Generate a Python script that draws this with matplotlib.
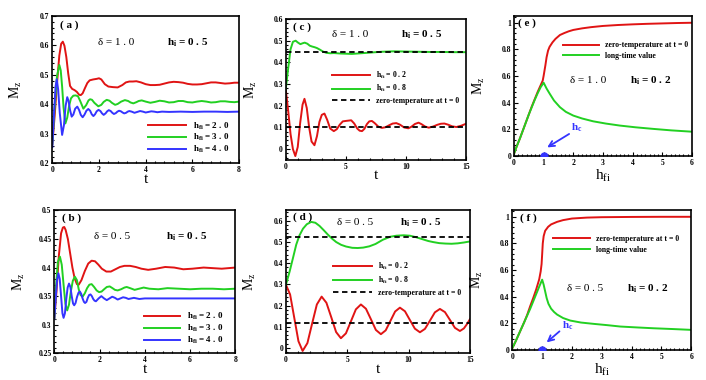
import matplotlib
matplotlib.use('Agg')
import matplotlib.pyplot as plt
from matplotlib.ticker import MultipleLocator, AutoMinorLocator, FuncFormatter

plt.rcParams['font.family'] = ['Liberation Serif', 'DejaVu Serif']
plt.rcParams['font.weight'] = 'bold'
plt.rcParams['mathtext.default'] = 'regular'
plt.rcParams['axes.linewidth'] = 1.2

RED = '#e01414'
GREEN = '#22d022'
BLUE = '#3434ff'

# ---- (a) delta = 1.0, h_i = 0.5 ----
ta_red = [0, 0.1, 0.2, 0.3, 0.38, 0.45, 0.52, 0.6, 0.68, 0.76, 0.85, 0.95, 1.05, 1.15, 1.22, 1.3, 1.4,
          1.5, 1.6, 1.75, 1.9, 2.0, 2.1, 2.25, 2.4, 2.6, 2.8, 3.0, 3.15, 3.3, 3.45, 3.6, 3.8, 4.0, 4.2,
          4.4, 4.6, 4.8, 5.0, 5.2, 5.4, 5.6, 5.8, 6.0, 6.2, 6.4, 6.6, 6.8, 7.0, 7.2, 7.4, 7.6, 7.8, 8.0]
Ma_red = [0.265, 0.36, 0.47, 0.565, 0.605, 0.612, 0.598, 0.56, 0.505, 0.462, 0.452, 0.448, 0.442,
          0.432, 0.431, 0.437, 0.455, 0.472, 0.481, 0.484, 0.486, 0.488, 0.484, 0.468, 0.46, 0.458,
          0.457, 0.465, 0.474, 0.477, 0.477, 0.478, 0.474, 0.468, 0.465, 0.465, 0.466, 0.47, 0.474,
          0.476, 0.475, 0.473, 0.469, 0.467, 0.467, 0.468, 0.471, 0.474, 0.474, 0.472, 0.47, 0.471,
          0.473, 0.473]
ta_green = [0, 0.1, 0.2, 0.3, 0.36, 0.42, 0.48, 0.56, 0.64, 0.72, 0.8, 0.9, 1.0, 1.1, 1.2, 1.33, 1.45,
            1.55, 1.62, 1.7, 1.8, 1.97, 2.1, 2.2, 2.33, 2.45, 2.55, 2.69, 2.8, 2.95, 3.11, 3.25, 3.35,
            3.47, 3.6, 3.7, 3.83, 4.0, 4.2, 4.4, 4.6, 4.8, 5.0, 5.2, 5.4, 5.6, 5.8, 6.0, 6.2, 6.4, 6.6,
            6.8, 7.0, 7.2, 7.4, 7.6, 7.8, 8.0]
Ma_green = [0.265, 0.39, 0.495, 0.533, 0.515, 0.46, 0.39, 0.335, 0.355, 0.395, 0.42, 0.429, 0.43,
            0.427, 0.41, 0.385, 0.397, 0.413, 0.417, 0.415, 0.405, 0.393, 0.398, 0.408, 0.415, 0.412,
            0.405, 0.398, 0.401, 0.409, 0.414, 0.411, 0.406, 0.403, 0.407, 0.411, 0.413, 0.409, 0.405,
            0.408, 0.412, 0.41, 0.406, 0.407, 0.411, 0.411, 0.407, 0.406, 0.409, 0.411, 0.409, 0.406,
            0.407, 0.41, 0.41, 0.408, 0.407, 0.409]
ta_blue = [0, 0.08, 0.14, 0.19, 0.25, 0.32, 0.42, 0.5, 0.57, 0.64, 0.7, 0.76, 0.83, 0.9, 0.98, 1.07,
           1.15, 1.22, 1.30, 1.38, 1.46, 1.54, 1.62, 1.69, 1.76, 1.83, 1.9, 1.98, 2.06, 2.13, 2.2,
           2.28, 2.35, 2.42, 2.5, 2.57, 2.64, 2.72, 2.79, 2.86, 2.94, 3.01, 3.08, 3.16, 3.23, 3.3,
           3.4, 3.52, 3.64, 3.76, 3.88, 4.0, 4.12, 4.24, 4.36, 4.5, 4.7, 5.0, 5.5, 6.0, 6.5, 7.0,
           7.5, 8.0]
Ma_blue = [0.255, 0.38, 0.46, 0.485, 0.45, 0.37, 0.296, 0.33, 0.395, 0.424, 0.41, 0.38, 0.358, 0.365,
           0.385, 0.392, 0.38, 0.364, 0.356, 0.365, 0.378, 0.384, 0.378, 0.366, 0.36, 0.366, 0.376,
           0.381, 0.377, 0.369, 0.364, 0.369, 0.376, 0.38, 0.377, 0.371, 0.367, 0.37, 0.375, 0.378,
           0.376, 0.372, 0.369, 0.371, 0.375, 0.377, 0.375, 0.371, 0.374, 0.377, 0.375, 0.372, 0.374,
           0.376, 0.375, 0.373, 0.375, 0.374, 0.375, 0.374, 0.375, 0.375, 0.374, 0.375]

# ---- (b) delta = 0.5, h_i = 0.5 ----
tb_red = [0, 0.1, 0.2, 0.3, 0.38, 0.44, 0.5, 0.6, 0.7, 0.8, 0.9, 1.0, 1.08, 1.2, 1.35, 1.5, 1.65, 1.8,
          1.95, 2.1, 2.3, 2.5, 2.7, 2.9, 3.1, 3.35, 3.6, 3.85, 4.15, 4.5, 4.9, 5.3, 5.7, 6.1, 6.6, 7.0,
          7.4, 8.0]
Mb_red = [0.31, 0.36, 0.42, 0.46, 0.47, 0.471, 0.466, 0.45, 0.425, 0.4, 0.381, 0.371, 0.37, 0.378,
          0.394, 0.407, 0.412, 0.411, 0.405, 0.398, 0.393, 0.393, 0.397, 0.401, 0.403, 0.403, 0.401,
          0.398, 0.396, 0.398, 0.401, 0.4, 0.397, 0.398, 0.4, 0.399, 0.398, 0.4]
tb_green = [0, 0.08, 0.16, 0.25, 0.33, 0.41, 0.49, 0.57, 0.65, 0.73, 0.82, 0.91, 1.0, 1.08, 1.16, 1.25,
            1.35, 1.45, 1.55, 1.65, 1.76, 1.87, 1.98, 2.09, 2.2, 2.32, 2.45, 2.57, 2.68, 2.8, 2.95,
            3.1, 3.2, 3.35, 3.55, 3.75, 3.95, 4.2, 4.6, 5.0, 5.5, 6.0, 6.5, 7.0, 7.5, 8.0]
Mb_green = [0.31, 0.37, 0.41, 0.419, 0.405, 0.37, 0.337, 0.325, 0.335, 0.358, 0.377, 0.384, 0.378,
            0.362, 0.352, 0.349, 0.355, 0.364, 0.37, 0.371, 0.366, 0.36, 0.357, 0.358, 0.362, 0.366,
            0.367, 0.364, 0.361, 0.36, 0.362, 0.365, 0.366, 0.364, 0.361, 0.363, 0.365, 0.363, 0.362,
            0.364, 0.363, 0.362, 0.363, 0.363, 0.362, 0.363]
tb_blue = [0, 0.06, 0.12, 0.18, 0.24, 0.3, 0.36, 0.41, 0.47, 0.53, 0.59, 0.65, 0.71, 0.77, 0.83, 0.88,
           0.94, 1.0, 1.07, 1.13, 1.19, 1.25, 1.31, 1.36, 1.42, 1.48, 1.54, 1.6, 1.66, 1.72, 1.78,
           1.84, 1.96, 2.08, 2.2, 2.32, 2.44, 2.56, 2.68, 2.8, 2.92, 3.04, 3.16, 3.28, 3.4, 3.52,
           3.64, 3.76, 4.0, 4.5, 5.0, 6.0, 7.0, 8.0]
Mb_blue = [0.31, 0.345, 0.378, 0.39, 0.38, 0.35, 0.32, 0.312, 0.32, 0.345, 0.365, 0.372, 0.366, 0.35,
           0.337, 0.334, 0.338, 0.348, 0.356, 0.358, 0.354, 0.346, 0.34, 0.338, 0.34, 0.347, 0.352,
           0.353, 0.35, 0.345, 0.342, 0.341, 0.346, 0.35, 0.346, 0.343, 0.346, 0.349, 0.347, 0.344,
           0.346, 0.348, 0.347, 0.345, 0.346, 0.347, 0.346, 0.345, 0.346, 0.346, 0.346, 0.346, 0.346,
           0.346]

# ---- (c) delta = 1.0, h_i = 0.5 ----
tc_red = [0, 0.2, 0.4, 0.6, 0.8, 1.0, 1.2, 1.4, 1.56, 1.75, 1.95, 2.15, 2.39, 2.6, 2.8, 3.0, 3.22,
          3.45, 3.7, 4.0, 4.25, 4.5, 4.75, 5.0, 5.45, 5.7, 5.95, 6.15, 6.35, 6.55, 6.75, 6.95, 7.17,
          7.4, 7.7, 8.0, 8.3, 8.6, 8.9, 9.2, 9.5, 9.85, 10.2, 10.45, 10.75, 11.05, 11.3, 11.6, 11.9,
          12.25, 12.6, 12.9, 13.2, 13.5, 13.85, 14.2, 14.6, 15.0]
Mc_red = [0.275, 0.18, 0.07, 0.0, -0.032, 0.01, 0.12, 0.205, 0.232, 0.19, 0.1, 0.035, 0.018, 0.06,
          0.125, 0.158, 0.164, 0.135, 0.095, 0.083, 0.092, 0.113, 0.128, 0.13, 0.133, 0.118, 0.095,
          0.085, 0.083, 0.094, 0.115, 0.128, 0.13, 0.12, 0.104, 0.098, 0.101, 0.11, 0.118, 0.12,
          0.113, 0.1, 0.096, 0.103, 0.116, 0.122, 0.115, 0.104, 0.099, 0.104, 0.112, 0.117, 0.118,
          0.113, 0.105, 0.102, 0.108, 0.117]
tc_green = [0, 0.2, 0.4, 0.6, 0.83, 1.0, 1.22, 1.4, 1.58, 1.8, 2.0, 2.2, 2.4, 2.6, 2.83, 3.1, 3.38,
            3.7, 4.0, 4.5, 5.0, 5.5, 6.0, 6.5, 7.0, 8.0, 9.0, 10.0, 11.0, 12.0, 13.0, 14.0, 15.0]
Mc_green = [0.275, 0.37, 0.46, 0.495, 0.5, 0.492, 0.484, 0.488, 0.491, 0.486, 0.477, 0.473, 0.47,
            0.466, 0.459, 0.45, 0.444, 0.442, 0.443, 0.441, 0.44, 0.439, 0.441, 0.443, 0.445, 0.449,
            0.451, 0.45, 0.449, 0.448, 0.448, 0.447, 0.447]
zero_c = [0.103, 0.447]

# ---- (d) delta = 0.5, h_i = 0.5 ----
td_red = [0, 0.34, 0.68, 1.02, 1.36, 1.75, 2.13, 2.52, 2.91, 3.3, 3.7, 4.09, 4.48, 4.89, 5.3, 5.7,
          6.11, 6.52, 6.93, 7.33, 7.74, 8.13, 8.52, 8.9, 9.29, 9.7, 10.1, 10.51, 10.92, 11.33, 11.74,
          12.14, 12.55, 12.96, 13.37, 13.77, 14.18, 14.5, 14.75, 15.0]
Md_red = [0.298, 0.252, 0.142, 0.032, -0.014, 0.023, 0.114, 0.205, 0.242, 0.213, 0.144, 0.075, 0.046,
          0.069, 0.126, 0.182, 0.205, 0.185, 0.135, 0.085, 0.065, 0.083, 0.128, 0.172, 0.19, 0.173,
          0.132, 0.091, 0.074, 0.09, 0.129, 0.168, 0.184, 0.169, 0.132, 0.095, 0.08, 0.092, 0.112,
          0.136]
td_green = [0, 0.3, 0.6, 0.84, 1.1, 1.39, 1.7, 2.06, 2.4, 2.74, 3.08, 3.42, 3.76, 4.1, 4.5, 4.9, 5.4,
            5.85, 6.3, 6.8, 7.3, 7.9, 8.5, 9.0, 9.6, 10.1, 10.6, 11.1, 11.6, 12.0, 12.5, 13.0, 13.5,
            14.0, 14.5, 15.0]
Md_green = [0.298, 0.36, 0.43, 0.487, 0.53, 0.562, 0.583, 0.594, 0.59, 0.575, 0.555, 0.534, 0.515,
            0.499, 0.486, 0.478, 0.472, 0.471, 0.473, 0.479, 0.49, 0.51, 0.524, 0.529, 0.531, 0.529,
            0.522, 0.513, 0.504, 0.499, 0.494, 0.492, 0.491, 0.493, 0.497, 0.502]
zero_d = [0.12, 0.521]

# ---- (e) delta = 1.0, h_i = 0.2 ----
he_red = [0, 0.1, 0.2, 0.3, 0.4, 0.5, 0.6, 0.7, 0.8, 0.9, 0.97, 1.0, 1.03, 1.06, 1.1, 1.15, 1.2, 1.3,
          1.4, 1.55, 1.7, 1.85, 2.0, 2.3, 2.6, 3.0, 3.5, 4.0, 4.5, 5.0, 5.5, 6.0]
Me_red = [0.015, 0.075, 0.13, 0.19, 0.25, 0.31, 0.37, 0.425, 0.48, 0.53, 0.565, 0.6, 0.64, 0.68, 0.74,
          0.79, 0.818, 0.852, 0.878, 0.907, 0.922, 0.935, 0.945, 0.957, 0.966, 0.975, 0.982, 0.987,
          0.991, 0.994, 0.997, 0.999]
he_green = [0, 0.1, 0.2, 0.3, 0.4, 0.5, 0.6, 0.7, 0.8, 0.9, 1.0, 1.1, 1.2, 1.35, 1.55, 1.75, 2.0, 2.3,
            2.67, 3.1, 3.57, 4.1, 4.7, 5.3, 6.0]
Me_green = [0.015, 0.075, 0.13, 0.19, 0.25, 0.31, 0.365, 0.42, 0.47, 0.515, 0.549, 0.505, 0.468,
            0.415, 0.365, 0.33, 0.302, 0.28, 0.259, 0.242, 0.227, 0.214, 0.202, 0.191, 0.181]

# ---- (f) delta = 0.5, h_i = 0.2 ----
hf_red = [0, 0.1, 0.2, 0.3, 0.4, 0.5, 0.6, 0.7, 0.8, 0.9, 0.95, 0.98, 1.0, 1.02, 1.05, 1.1, 1.2, 1.3,
          1.5, 1.7, 2.0, 2.5, 3.0, 4.0, 5.0, 6.0]
Mf_red = [0.015, 0.06, 0.11, 0.16, 0.21, 0.265, 0.33, 0.39, 0.455, 0.53, 0.59, 0.645, 0.72, 0.8,
          0.855, 0.895, 0.925, 0.943, 0.962, 0.975, 0.987, 0.994, 0.997, 0.999, 1.0, 1.0]
hf_green = [0, 0.1, 0.2, 0.3, 0.4, 0.5, 0.6, 0.7, 0.8, 0.9, 1.0, 1.05, 1.1, 1.15, 1.21, 1.3, 1.4, 1.5,
            1.7, 1.94, 2.3, 2.73, 3.2, 3.62, 4.2, 4.74, 5.4, 6.0]
Mf_green = [0.015, 0.06, 0.11, 0.16, 0.21, 0.26, 0.31, 0.365, 0.42, 0.475, 0.528, 0.49, 0.44, 0.39,
            0.347, 0.31, 0.285, 0.266, 0.24, 0.221, 0.206, 0.196, 0.186, 0.176, 0.169, 0.163, 0.157,
            0.151]

hc = 1.0
hfi_a = ['2 . 0', '3 . 0', '4 . 0']
hfi_c = ['0 . 2', '0 . 8']

fig = plt.figure(figsize=(7.06, 3.80), dpi=100)
fmt = FuncFormatter(lambda v, _: '%g' % round(v, 3))


def style(ax, xlim, ylim, xmaj, xsub, ymaj, ysub, xlabel):
    ax.set_xlim(*xlim)
    ax.set_ylim(*ylim)
    ax.xaxis.set_major_locator(MultipleLocator(xmaj))
    ax.xaxis.set_minor_locator(AutoMinorLocator(xsub))
    ax.yaxis.set_major_locator(MultipleLocator(ymaj))
    ax.yaxis.set_minor_locator(AutoMinorLocator(ysub))
    ax.xaxis.set_major_formatter(fmt)
    ax.yaxis.set_major_formatter(fmt)
    ax.tick_params(which='both', direction='in', labelsize=5.5, width=0.8, pad=2)
    ax.tick_params(which='major', length=3)
    ax.tick_params(which='minor', length=1.7)
    ax.set_ylabel('M$_z$', fontsize=10)
    ax.yaxis.set_label_coords(-0.15, 0.5)
    ax.set_xlabel(xlabel, fontsize=11)
    ax.xaxis.set_label_coords(0.5, -0.065)


def texts(ax, tag, pos_tag, delta, pos_d, hi, pos_h):
    ax.text(*pos_tag, '( %s )' % tag, transform=ax.transAxes, fontsize=8, va='center')
    ax.text(*pos_d, '\u03b4 = ' + delta, transform=ax.transAxes, fontsize=8, fontweight='normal',
            va='center')
    ax.text(*pos_h, 'h$_i$ = ' + hi, transform=ax.transAxes, fontsize=8, va='center')


lw = 1.4

# (a)
ax = fig.add_axes([0.0741, 0.5703, 0.2645, 0.3884])
ax.plot(ta_red, Ma_red, color=RED, lw=lw, label='h$_{fi}$ = ' + hfi_a[0])
ax.plot(ta_green, Ma_green, color=GREEN, lw=lw, label='h$_{fi}$ = ' + hfi_a[1])
ax.plot(ta_blue, Ma_blue, color=BLUE, lw=lw, label='h$_{fi}$ = ' + hfi_a[2])
style(ax, (0, 8), (0.2, 0.7), 2, 5, 0.1, 5, 't')
texts(ax, 'a', (0.04, 0.937), '1 . 0', (0.243, 0.817), '0 . 5', (0.613, 0.817))
ax.legend(loc='upper left', bbox_to_anchor=(0.514, 0.29), frameon=False, fontsize=6.5,
          handlelength=4.2, handletextpad=0.7, labelspacing=0.05, borderpad=0, borderaxespad=0)

# (b)
ax = fig.add_axes([0.0769, 0.0703, 0.2564, 0.376])
ax.plot(tb_red, Mb_red, color=RED, lw=lw, label='h$_{fi}$ = ' + hfi_a[0])
ax.plot(tb_green, Mb_green, color=GREEN, lw=lw, label='h$_{fi}$ = ' + hfi_a[1])
ax.plot(tb_blue, Mb_blue, color=BLUE, lw=lw, label='h$_{fi}$ = ' + hfi_a[2])
style(ax, (0, 8), (0.25, 0.5), 2, 5, 0.05, 5, 't')
texts(ax, 'b', (0.04, 0.948), '0 . 5', (0.22, 0.815), '0 . 5', (0.617, 0.815))
ax.legend(loc='upper left', bbox_to_anchor=(0.496, 0.298), frameon=False, fontsize=6.5,
          handlelength=4.0, handletextpad=0.7, labelspacing=0.1, borderpad=0, borderaxespad=0)

# (c)
ax = fig.add_axes([0.4047, 0.579, 0.2554, 0.371])
ax.plot(tc_red, Mc_red, color=RED, lw=lw, label='h$_{fi}$ = ' + hfi_c[0])
ax.plot(tc_green, Mc_green, color=GREEN, lw=lw, label='h$_{fi}$ = ' + hfi_c[1])
for i, z in enumerate(zero_c):
    ax.axhline(z, color='black', lw=1.3, ls=(0, (3, 2)), zorder=3,
               label='zero-temperature at t = 0' if i == 0 else None)
style(ax, (0, 15), (-0.05, 0.6), 5, 5, 0.1, 5, 't')
texts(ax, 'c', (0.04, 0.945), '1 . 0', (0.255, 0.89), '0 . 5', (0.64, 0.89))
ax.legend(loc='upper left', bbox_to_anchor=(0.255, 0.64), frameon=False, fontsize=5.6,
          handlelength=4.9, handletextpad=0.8, labelspacing=0.3, borderpad=0, borderaxespad=0)

# (d)
ax = fig.add_axes([0.405, 0.0703, 0.2607, 0.377])
ax.plot(td_red, Md_red, color=RED, lw=lw, label='h$_{fi}$ = ' + hfi_c[0])
ax.plot(td_green, Md_green, color=GREEN, lw=lw, label='h$_{fi}$ = ' + hfi_c[1])
for i, z in enumerate(zero_d):
    ax.axhline(z, color='black', lw=1.3, ls=(0, (3, 2)), zorder=3,
               label='zero-temperature at t = 0' if i == 0 else None)
style(ax, (0, 15), (-0.025, 0.65), 5, 5, 0.1, 5, 't')
texts(ax, 'd', (0.04, 0.95), '0 . 5', (0.275, 0.91), '0 . 5', (0.62, 0.91))
ax.legend(loc='upper left', bbox_to_anchor=(0.254, 0.643), frameon=False, fontsize=5.6,
          handlelength=5.0, handletextpad=0.8, labelspacing=0.35, borderpad=0, borderaxespad=0)

# (e), (f)
panels = [
    ([0.728, 0.590, 0.252, 0.368], he_red, Me_red, he_green, Me_green, 'e', '1 . 0',
     (0.024, 0.95), (0.315, 0.54), (0.652, 0.535), (0.273, 0.818),
     (1.93, 0.21), (1.86, 0.164), (1.12, 0.063)),
    ([0.7257, 0.079, 0.2535, 0.368], hf_red, Mf_red, hf_green, Mf_green, 'f', '0 . 5',
     (0.043, 0.94), (0.304, 0.44), (0.639, 0.44), (0.228, 0.822),
     (1.66, 0.18), (1.58, 0.14), (1.15, 0.057)),
]
for rect, hr, mr, hg, mg, tag, dl, ptag, pd, ph, pleg, plab, ptail, phead in panels:
    ax = fig.add_axes(rect)
    ax.plot(hr, mr, color=RED, lw=lw, label='zero-temperature at t = 0')
    ax.plot(hg, mg, color=GREEN, lw=lw, label='long-time value')
    ax.plot([hc], [0], 'o', color=BLUE, ms=5, clip_on=True, zorder=4)
    ax.annotate('', xy=phead, xytext=ptail,
                arrowprops=dict(arrowstyle='->', color=BLUE, lw=1.3, shrinkA=0, shrinkB=0))
    ax.text(*plab, 'h$_c$', color=BLUE, fontsize=8, va='center')
    style(ax, (0, 6), (0, 1.05), 1, 7, 0.2, 5, 'h$_{fi}$')
    ax.xaxis.set_label_coords(0.5, -0.085)
    texts(ax, tag, ptag, dl, pd, '0 . 2', ph)
    ax.legend(loc='upper left', bbox_to_anchor=pleg, frameon=False, fontsize=5.6,
              handlelength=4.7, handletextpad=0.8, labelspacing=0.35, borderpad=0, borderaxespad=0)

fig.savefig('out.png', dpi=100)
